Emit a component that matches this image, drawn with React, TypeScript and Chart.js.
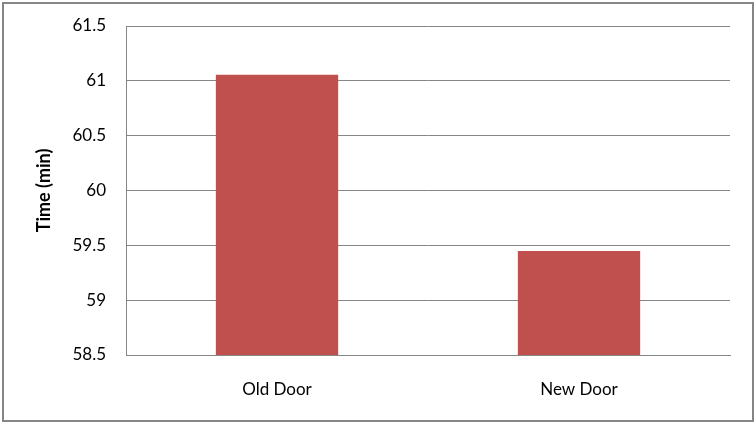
import { useEffect, useRef } from "react"
import { Chart, registerables } from "chart.js"

Chart.register(...registerables)

const categories = ["Old Door", "New Door"]
const timeValues = [61.055, 59.448]
const yMin = 58.5
const yMax = 61.5
const yStep = 0.5

const FONT = "Lato, 'Open Sans', sans-serif"

export default function App() {
  const chartRef = useRef<HTMLCanvasElement>(null)
  const chartInstance = useRef<Chart | null>(null)

  useEffect(() => {
    if (!chartRef.current) return
    if (chartInstance.current) chartInstance.current.destroy()
    const ctx = chartRef.current.getContext("2d")
    if (!ctx) return

    chartInstance.current = new Chart(ctx, {
      type: "bar",
      data: {
        labels: categories,
        datasets: [
          {
            label: "Time (min)",
            data: timeValues,
            backgroundColor: "#C0504D",
            borderWidth: 0,
            categoryPercentage: 0.405,
            barPercentage: 1,
          },
        ],
      },
      options: {
        animation: false,
        responsive: false,
        maintainAspectRatio: false,
        layout: { padding: { left: 0, top: 22, right: 22, bottom: 0 } },
        plugins: {
          legend: { display: false },
          tooltip: { enabled: false },
        },
        scales: {
          x: {
            grid: { display: false, drawTicks: false },
            border: { color: "#868686", width: 1 },
            ticks: { color: "#000", font: { family: FONT, size: 17 }, padding: 24 },
            afterFit: (scale: any) => {
              scale.height = 65
            },
          },
          y: {
            min: yMin,
            max: yMax,
            grid: { color: "#868686", lineWidth: 1, drawTicks: false },
            border: { color: "#868686", width: 1 },
            ticks: {
              stepSize: yStep,
              color: "#000",
              font: { family: FONT, size: 17 },
              padding: 20,
              callback: (value: any) => String(Number(value)),
            },
            title: {
              display: true,
              text: "Time (min)",
              color: "#000",
              font: { family: FONT, size: 18, weight: "bold" },
              padding: { top: 29, bottom: 0 },
            },
            afterFit: (scale: any) => {
              scale.width = 122
              scale.paddingTop = 0
              scale.paddingBottom = 0
            },
          },
        },
      },
    })

    return () => {
      if (chartInstance.current) chartInstance.current.destroy()
    }
  }, [])

  return (
    <div style={{ position: "fixed", left: 0, top: 0, width: 756, height: 426, background: "#fff" }}>
      <div
        style={{
          position: "absolute",
          left: 2,
          top: 2,
          width: 752,
          height: 420,
          boxSizing: "border-box",
          border: "2px solid #868686",
        }}
      >
        <canvas ref={chartRef} width={748} height={416} style={{ display: "block", width: 748, height: 416 }} />
      </div>
    </div>
  )
}
